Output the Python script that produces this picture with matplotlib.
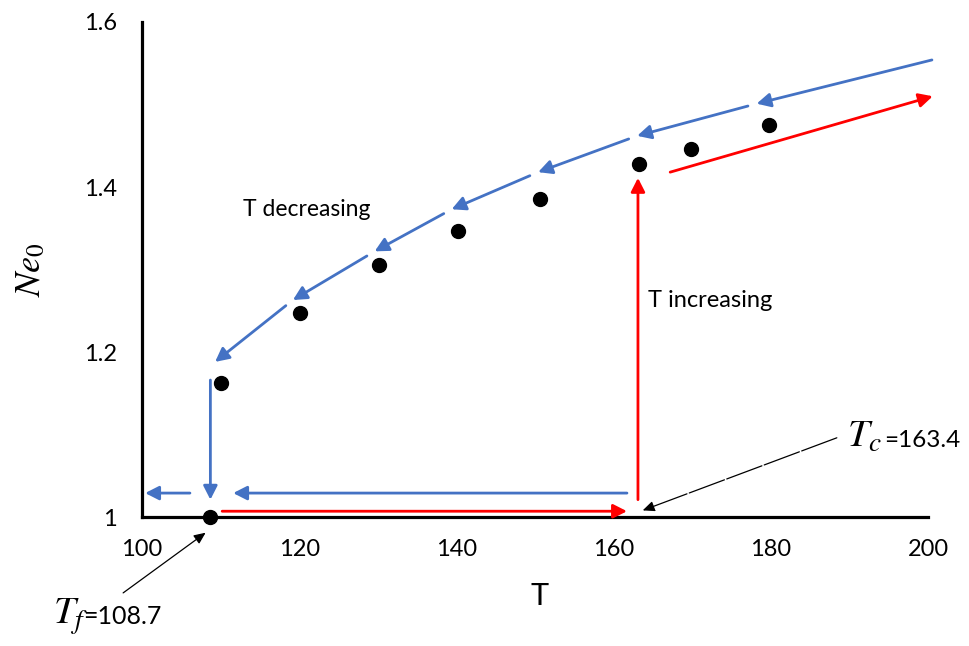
import matplotlib
matplotlib.use("Agg")
import matplotlib.pyplot as plt

# ---- data ----
T_points = [108.7, 110.1, 120.1, 130.2, 140.2, 150.6, 163.2, 169.8, 179.8]
Ne_points = [1.0, 1.162, 1.247, 1.305, 1.347, 1.385, 1.428, 1.446, 1.475]

# blue "T decreasing" curve nodes (arrow tips)
blue_T = [200.5, 178.2, 163.0, 150.4, 139.4, 129.6, 119.2, 109.3]
blue_Ne = [1.554, 1.501, 1.462, 1.418, 1.373, 1.322, 1.263, 1.188]

# other path arrows: (T_start, Ne_start, T_end, Ne_end)
blue_drop = (108.7, 1.166, 108.7, 1.021)
blue_back_long = (161.7, 1.029, 111.6, 1.029)
blue_back_short = (106.1, 1.029, 100.4, 1.029)
red_forward = (110.2, 1.007, 161.7, 1.007)
red_jump = (163.1, 1.021, 163.1, 1.411)
red_up = (167.2, 1.418, 200.6, 1.510)

Tc = 163.4
Tf = 108.7
x_ticks = [100, 120, 140, 160, 180, 200]
y_ticks = [1.0, 1.2, 1.4, 1.6]
y_tick_labels = ["1", "1.2", "1.4", "1.6"]

BLUE = "#4472C4"
RED = "#FF0000"
FONT = "Lato"

plt.rcParams["mathtext.fontset"] = "stix"

fig = plt.figure(figsize=(9.7, 6.46), dpi=100)
ax = fig.add_axes([142 / 970, 1 - 517 / 646, (928 - 142) / 970, (517 - 22) / 646])
ax.set_xlim(100, 200)
ax.set_ylim(1.0, 1.6)

for s in ["top", "right"]:
    ax.spines[s].set_visible(False)
for s in ["left", "bottom"]:
    ax.spines[s].set_linewidth(2.3)
    ax.spines[s].set_color("black")

ax.set_xticks(x_ticks)
ax.set_xticklabels([str(t) for t in x_ticks], fontsize=17, family=FONT)
ax.set_yticks(y_ticks)
ax.set_yticklabels(y_tick_labels, fontsize=17, family=FONT)
ax.tick_params(axis="both", length=0)
ax.tick_params(axis="x", pad=16)
ax.tick_params(axis="y", pad=18)

def arrow(x0, y0, x1, y1, color, shrinkA=0, lw=2.0):
    ax.annotate("", xy=(x1, y1), xytext=(x0, y0),
                arrowprops=dict(arrowstyle="-|>,head_length=0.55,head_width=0.28",
                                mutation_scale=15, color=color, lw=lw,
                                shrinkA=shrinkA, shrinkB=0),
                annotation_clip=False)

# blue decreasing curve
for i in range(len(blue_T) - 1):
    arrow(blue_T[i], blue_Ne[i], blue_T[i + 1], blue_Ne[i + 1], BLUE,
          shrinkA=0 if i == 0 else 6.5)

for seg in [blue_drop, blue_back_long, blue_back_short]:
    arrow(*seg, BLUE)
for seg in [red_forward, red_jump, red_up]:
    arrow(*seg, RED)

# data points
ax.plot(T_points, Ne_points, "o", color="black", markersize=10, clip_on=False, zorder=5)

# annotation arrows
ax.annotate("", xy=(163.7, 1.008), xytext=(188.4, 1.096),
            arrowprops=dict(arrowstyle="-|>,head_length=0.5,head_width=0.22",
                            mutation_scale=14, color="black", lw=0.9,
                            linestyle=(0, (30, 2)), shrinkA=0, shrinkB=0),
            annotation_clip=False)
ax.annotate("", xy=(108.1, 0.981), xytext=(97.6, 0.908),
            arrowprops=dict(arrowstyle="-|>,head_length=0.5,head_width=0.22",
                            mutation_scale=14, color="black", lw=0.9,
                            shrinkA=0, shrinkB=0),
            annotation_clip=False)

# texts
ax.text(189.7, 1.085, r"$T_c$", fontsize=28, ha="left", va="baseline", clip_on=False)
ax.text(204.1, 1.085, "=%.1f" % Tc, fontsize=17.5, family=FONT, ha="right", va="baseline", clip_on=False)
ax.text(88.7, 0.870, r"$T_f$", fontsize=28, ha="left", va="baseline", clip_on=False)
ax.text(92.5, 0.870, "=%.1f" % Tf, fontsize=18, family=FONT, ha="left", va="baseline", clip_on=False)

ax.text(121.0, 1.373, "T decreasing", fontsize=16.5, family=FONT, ha="center", va="center")
ax.text(172.3, 1.262, "T increasing", fontsize=17, family=FONT, ha="center", va="center")

fig.text(540 / 970, 1 - 596 / 646, "T", fontsize=22, family=FONT, ha="center", va="center")
fig.text(30 / 970, 1 - 270 / 646, r"$Ne_0$", fontsize=26, rotation=90, ha="center", va="center")

fig.savefig("out.png", dpi=100)
